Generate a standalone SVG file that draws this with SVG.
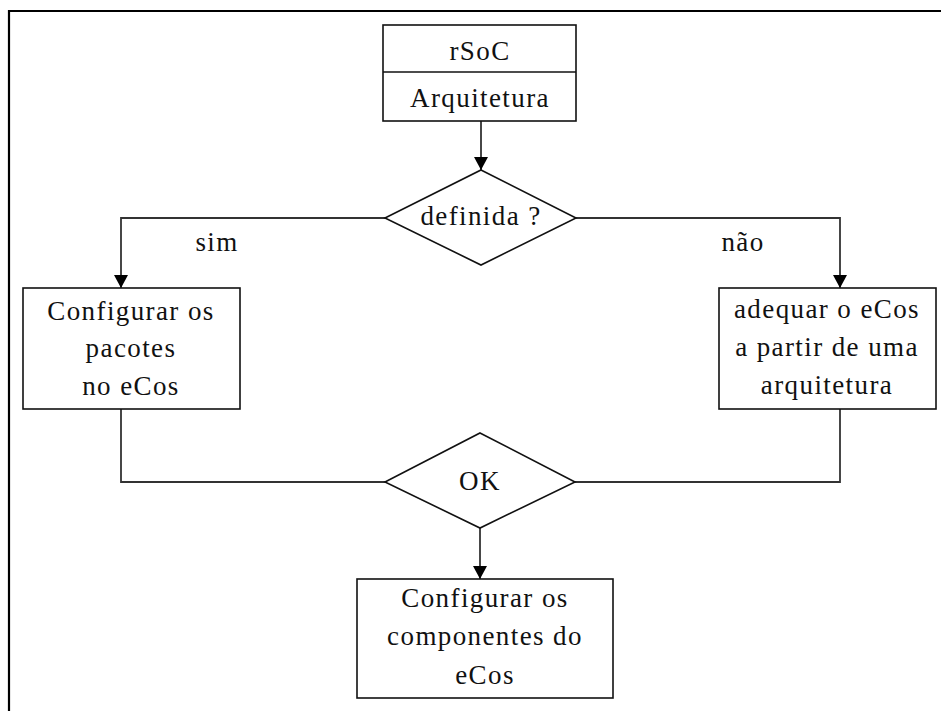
<svg xmlns="http://www.w3.org/2000/svg" width="941" height="711" viewBox="0 0 941 711">
<style>
.bx{fill:#fff;stroke:#111;stroke-width:1.6}
.cn{fill:none;stroke:#333;stroke-width:1.8}
.t{font-family:'Liberation Serif','DejaVu Serif',serif;font-size:27px;letter-spacing:1.4px;fill:#111;text-anchor:middle}
</style>
<defs>
<marker id="ah" markerWidth="14" markerHeight="14" refX="13" refY="7" orient="auto" markerUnits="userSpaceOnUse">
<path d="M0,0 L13,7 L0,14 Z" fill="#000"/>
</marker>
</defs>
<rect x="0" y="0" width="941" height="711" fill="#fff"/>
<path d="M9,711 V11 H941" fill="none" stroke="#000" stroke-width="2.2"/>
<g id="connectors">
<path class="cn" d="M481,121 V170" marker-end="url(#ah)"/>
<path class="cn" d="M385,218 H121 V288" marker-end="url(#ah)"/>
<path class="cn" d="M576,218 H840 V288" marker-end="url(#ah)"/>
<path class="cn" d="M121,409 V482 H385"/>
<path class="cn" d="M840,409 V482 H575"/>
<path class="cn" d="M480,528 V579" marker-end="url(#ah)"/>
<text class="t" x="217" y="251" font-family="Liberation Serif, serif">sim</text>
<text class="t" x="743" y="251" font-family="Liberation Serif, serif">não</text>
</g>
<g id="rsoc">
<rect class="bx" x="383" y="25" width="193" height="96"/>
<line class="bx" x1="383" y1="72" x2="576" y2="72"/>
<text class="t" x="480" y="60">rSoC</text>
<text class="t" x="480" y="107">Arquitetura</text>
</g>
<g id="definida">
<polygon class="bx" points="481,170 576,218 481,265 385,218"/>
<text class="t" x="481" y="225">definida ?</text>
</g>
<g id="configurar-pacotes">
<rect class="bx" x="23" y="288" width="217" height="121"/>
<text class="t" x="131" y="320">Configurar os</text>
<text class="t" x="131" y="357">pacotes</text>
<text class="t" x="131" y="395">no eCos</text>
</g>
<g id="adequar">
<rect class="bx" x="719" y="288" width="217" height="121"/>
<text class="t" x="827" y="318">adequar o eCos</text>
<text class="t" x="827" y="356">a partir de uma</text>
<text class="t" x="827" y="394">arquitetura</text>
</g>
<g id="ok">
<polygon class="bx" points="480,433 575,482 480,528 385,482"/>
<text class="t" x="480" y="490">OK</text>
</g>
<g id="configurar-componentes">
<rect class="bx" x="357" y="579" width="256" height="119"/>
<text class="t" x="485" y="607">Configurar os</text>
<text class="t" x="485" y="645">componentes do</text>
<text class="t" x="485" y="684">eCos</text>
</g>
</svg>
